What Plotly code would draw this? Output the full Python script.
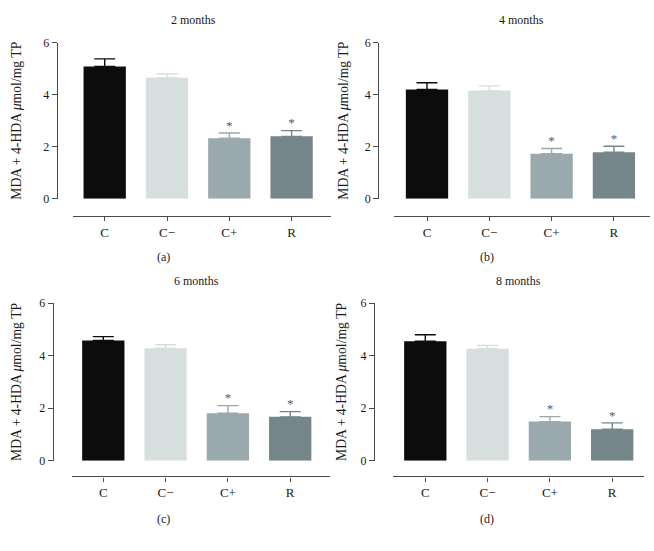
import plotly.graph_objects as go

W, H = 654, 551

categories = ["C", "C\u2212", "C+", "R"]
panel_titles = ["2 months", "4 months", "6 months", "8 months"]
panel_letters = ["(a)", "(b)", "(c)", "(d)"]

means_2m = [5.09, 4.65, 2.33, 2.40]
errs_2m = [0.29, 0.16, 0.20, 0.22]
means_4m = [4.20, 4.15, 1.73, 1.79]
errs_4m = [0.26, 0.19, 0.20, 0.23]
means_6m = [4.58, 4.29, 1.81, 1.67]
errs_6m = [0.15, 0.13, 0.29, 0.20]
means_8m = [4.55, 4.27, 1.49, 1.20]
errs_8m = [0.25, 0.12, 0.19, 0.24]
significant = [False, False, True, True]

y_ticks = [0, 2, 4, 6]

colors = ["#0c0c0c", "#d6dfde", "#9aa9ae", "#74868a"]
axis_color = "#4a4a4a"
star_color = "#5a5a5a"
text_color = "#1a1a1a"
FONT = "Liberation Serif, Times New Roman, serif"

# pixel geometry of each panel
geo = [
    dict(yx=56.7, y6=36.7, y0=196.7, xy=214.3, xL=72.7, xR=331, c0=104.7,
         tx=193, ty=13, lx=163, ly=257, ylx=17),
    dict(yx=378.3, y6=36.7, y0=196.7, xy=214.3, xL=394, xR=650, c0=427,
         tx=521, ty=13, lx=487, ly=257, ylx=344),
    dict(yx=52.7, y6=304, y0=465.5, xy=481.7, xL=71.7, xR=330, c0=103.3,
         tx=196, ty=281, lx=163, ly=525, ylx=17),
    dict(yx=374, y6=304, y0=465.5, xy=481.7, xL=393.3, xR=644, c0=425.3,
         tx=518, ty=281, lx=487, ly=525, ylx=342),
]
unit = 62.3
bar_w = 42.3 / unit

all_means = [means_2m, means_4m, means_6m, means_8m]
all_errs = [errs_2m, errs_4m, errs_6m, errs_8m]

fig = go.Figure()
layout = dict(
    width=W, height=H, margin=dict(l=0, r=0, t=0, b=0),
    paper_bgcolor="white", plot_bgcolor="white",
    showlegend=False, barmode="overlay",
    font=dict(family=FONT, color=text_color),
)
annotations = []

for p in range(4):
    g = geo[p]
    sx = "" if p == 0 else str(p + 1)
    xref = "x" + sx
    yref = "y" + sx
    means = all_means[p]
    errs = all_errs[p]
    for i in range(4):
        fig.add_trace(go.Bar(
            x=[i], y=[means[i]], width=bar_w,
            marker=dict(color=colors[i], line=dict(width=0)),
            error_y=dict(type="data", array=[errs[i]], arrayminus=[0],
                         symmetric=False, color=colors[i],
                         thickness=1.4, width=10.5),
            xaxis=xref, yaxis=yref,
        ))
    sx_i = [i for i in range(4) if significant[i]]
    fig.add_trace(go.Scatter(
        x=sx_i, y=[means[i] + errs[i] for i in sx_i],
        mode="text", text=["*"] * len(sx_i), textposition="top center",
        textfont=dict(family=FONT, size=13, color=star_color),
        xaxis=xref, yaxis=yref,
    ))
    xr = [(g["xL"] - g["c0"]) / unit, (g["xR"] - g["c0"]) / unit]
    layout["xaxis" + sx] = dict(
        domain=[g["xL"] / W, g["xR"] / W], range=xr,
        anchor="free", position=1 - g["xy"] / H,
        tickvals=[0, 1, 2, 3], ticktext=categories,
        ticks="outside", ticklen=4, tickwidth=1.2, tickcolor=axis_color,
        showline=True, linecolor=axis_color, linewidth=1.3,
        showgrid=False, zeroline=False, fixedrange=True,
        tickfont=dict(family=FONT, size=13, color=text_color),
    )
    layout["yaxis" + sx] = dict(
        domain=[1 - g["y0"] / H, 1 - g["y6"] / H], range=[0, 6],
        anchor="free", position=g["yx"] / W,
        tickvals=y_ticks, ticks="outside", ticklen=5, tickwidth=1.2,
        tickcolor=axis_color, showline=True, linecolor=axis_color,
        linewidth=1.3, showgrid=False, zeroline=False, fixedrange=True,
        tickfont=dict(family=FONT, size=12, color=text_color),
    )
    annotations.append(dict(
        text=panel_titles[p], x=g["tx"] / W, y=1 - g["ty"] / H,
        xref="paper", yref="paper", showarrow=False,
        xanchor="center", yanchor="middle",
        font=dict(family=FONT, size=12, color=text_color),
    ))
    annotations.append(dict(
        text=panel_letters[p], x=g["lx"] / W, y=1 - g["ly"] / H,
        xref="paper", yref="paper", showarrow=False,
        xanchor="center", yanchor="middle",
        font=dict(family=FONT, size=12, color=text_color),
    ))
    annotations.append(dict(
        text="MDA + 4-HDA <i>\u03bc</i>mol/mg TP",
        x=g["ylx"] / W, y=1 - (g["y0"] + g["y6"]) / 2 / H,
        xref="paper", yref="paper", showarrow=False, textangle=-90,
        xanchor="center", yanchor="middle",
        font=dict(family=FONT, size=13.7, color=text_color),
    ))

layout["annotations"] = annotations
fig.update_layout(**layout)
fig.write_html(
    "out.html",
    config={"displayModeBar": False},
    post_script="document.body.style.margin='0';document.body.style.overflow='hidden';",
)
